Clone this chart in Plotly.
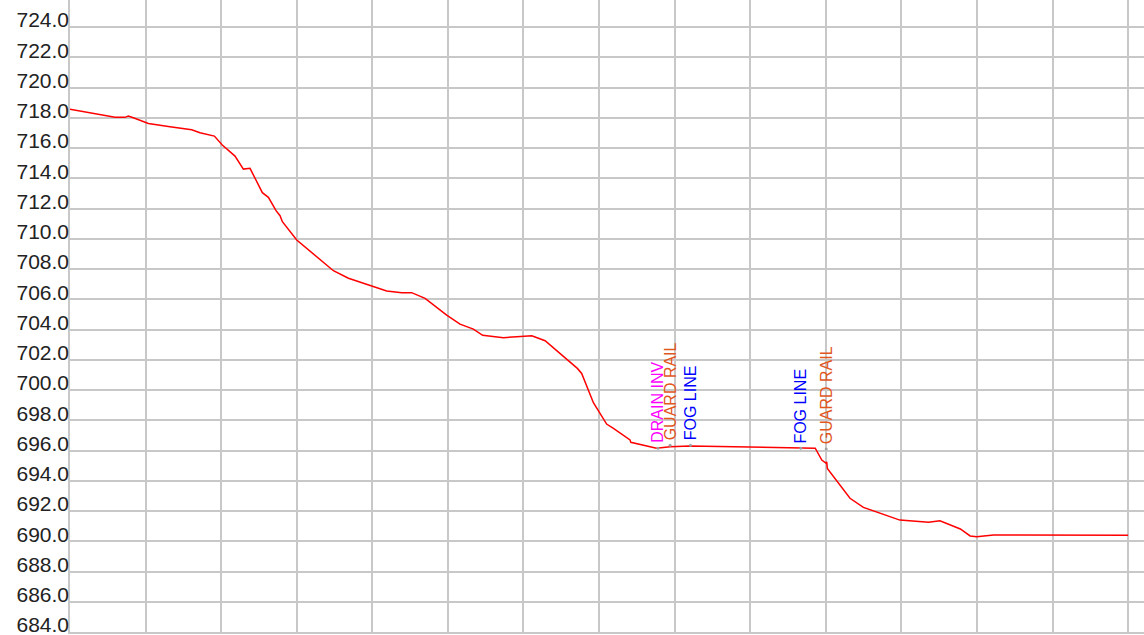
import plotly.graph_objects as go

# Profile station (10 units per vertical grid line) and elevation
station = [0.0, 5.95, 7.28, 7.72, 8.38, 10.37, 13.23, 15.0, 16.1, 17.2, 19.1, 20.15,
           21.83, 22.94, 23.82, 25.45, 26.25, 27.26, 27.79, 28.1, 30.0, 34.85, 36.84,
           39.92, 41.9, 43.9, 45.2, 46.98, 49.84, 51.6, 53.37, 54.6, 57.34, 59.1, 60.0,
           61.1, 62.86, 67.13, 67.7, 68.4, 69.25, 71.0, 71.9, 74.1, 74.2, 77.6, 79.4,
           82.0, 91.3, 96.7, 98.6, 99.47, 100.05, 100.12, 100.2, 103.2, 104.97, 109.8,
           113.6, 115.1, 117.8, 119.1, 119.96, 122.2, 129.7, 132.8, 140.0]
elevation = [718.56, 718.03, 718.03, 718.12, 718.0, 717.63, 717.41, 717.26, 717.21, 717.01,
             716.79, 716.2, 715.47, 714.61, 714.66, 713.05, 712.74, 711.86, 711.53, 711.13,
             709.92, 707.89, 707.39, 706.88, 706.55, 706.44, 706.44, 706.06, 704.96, 704.36,
             704.03, 703.62, 703.46, 703.53, 703.57, 703.59, 703.26, 701.43, 701.1, 700.22,
             699.16, 697.75, 697.47, 696.7, 696.54, 696.15, 696.25, 696.3, 696.2, 696.15,
             696.15, 695.37, 695.15, 695.25, 694.82, 692.84, 692.24, 691.4, 691.25, 691.36,
             690.81, 690.35, 690.3, 690.41, 690.41, 690.37, 690.39]

# Feature callouts
feature_labels = ["DRAIN INV", "GUARD RAIL", "FOG LINE", "FOG LINE", "GUARD RAIL"]
feature_station = [77.8, 79.4, 82.1, 96.7, 100.05]
feature_elev = [696.15, 696.35, 696.35, 696.15, 696.1]
feature_colors = ["#ff00ff", "#e2571e", "#0000ff", "#0000ff", "#e2571e"]

y_ticks = [684 + 2 * i for i in range(21)]
y_tick_text = [f"{v:.1f}" for v in y_ticks]

fig = go.Figure()
fig.add_trace(go.Scatter(x=station, y=elevation, mode="lines",
                         line=dict(color="#ff0000", width=1.5), hoverinfo="skip"))
fig.add_trace(go.Scatter(x=feature_station, y=feature_elev, mode="markers",
                         marker=dict(color="#a0a0a0", size=3), hoverinfo="skip"))

for lbl, xs, ys, col in zip(feature_labels, feature_station, feature_elev, feature_colors):
    fig.add_annotation(x=xs, y=ys, text=lbl, textangle=-90, showarrow=False,
                       xanchor="center", yanchor="bottom", yshift=3,
                       font=dict(family="Liberation Sans, Arial", size=16, color=col))

grid = "#c8c8c8"
fig.update_layout(
    width=1144, height=635, autosize=False,
    margin=dict(l=70, r=0, t=0, b=3),
    paper_bgcolor="white", plot_bgcolor="white",
    showlegend=False,
    xaxis=dict(range=[0, 142.1], dtick=10, tick0=0, showticklabels=False,
               automargin=False,
               showgrid=True, gridcolor=grid, gridwidth=1.5, zeroline=False,
               showline=True, linecolor=grid, linewidth=1.5),
    yaxis=dict(range=[684, 725.79], tickvals=y_ticks, ticktext=y_tick_text,
               ticklabelposition="outside", ticklabelshift=-7, ticklabelstandoff=-5,
               ticklabeloverflow="allow", automargin=False,
               showgrid=True, gridcolor=grid, gridwidth=1.5, zeroline=False,
               showline=True, linecolor=grid, linewidth=1.5,
               tickfont=dict(family="Liberation Sans, Arial", size=21, color="#222222")),
)

fig.write_html("out.html", config={"displayModeBar": False},
               post_script="document.body.style.margin='0';")
